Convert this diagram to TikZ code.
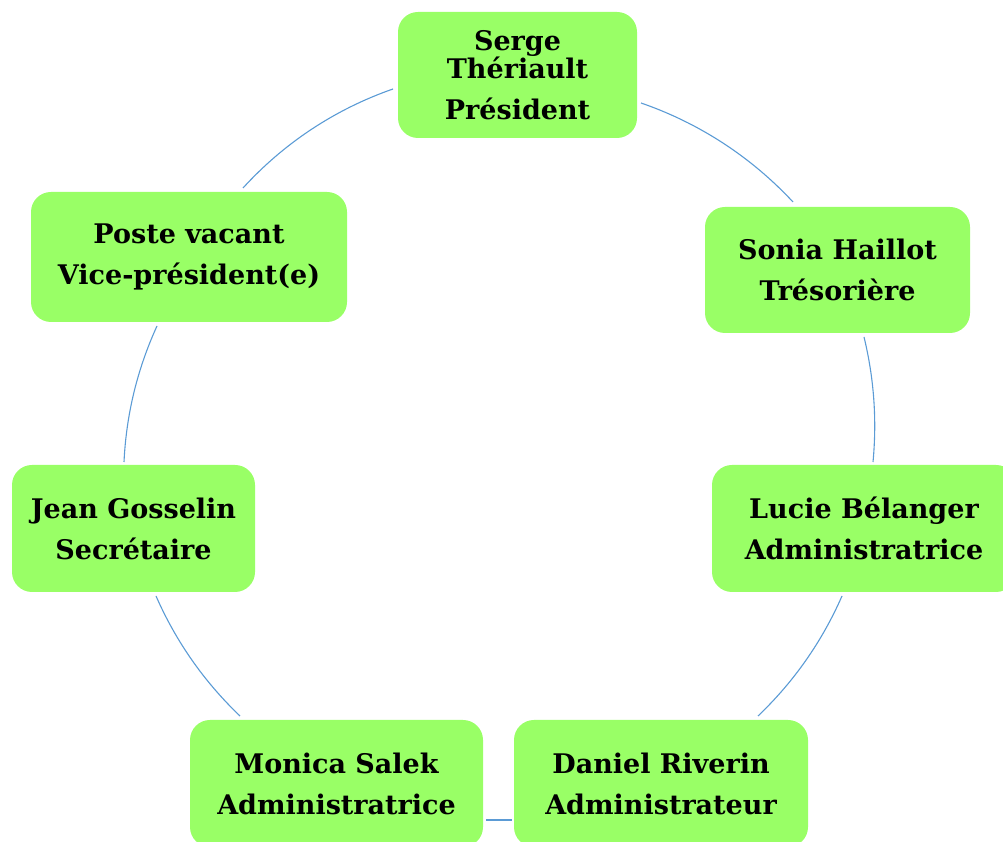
\documentclass[tikz,border=0pt]{standalone}
\usepackage{fontspec}
\setmainfont{DejaVu Serif}

\definecolor{boxgreen}{RGB}{153,255,102}
\definecolor{linkblue}{RGB}{91,155,213}

\begin{document}
\begin{tikzpicture}[x=1pt,y=1pt,
    member/.style={rectangle,rounded corners=20pt,fill=boxgreen,align=center,
      inner sep=0pt,font=\fontsize{27}{41}\selectfont\bfseries},
    link/.style={draw=linkblue,line width=1.1pt,looseness=0.87}]
   \useasboundingbox (0,0) rectangle (1003,842);
   \clip (0,0) rectangle (1003,842);

   \node[member,minimum width=239pt,minimum height=126pt] (serge)  at (517.5,767) {Serge\\[-13pt]Thériault\\Président};
   \node[member,minimum width=265pt,minimum height=126pt] (sonia)  at (837.5,572) {Sonia Haillot\\Trésorière};
   \node[member,minimum width=304pt,minimum height=127pt] (lucie)  at (864,313.5) {Lucie Bélanger\\Administratrice};
   \node[member,minimum width=294pt,minimum height=127pt] (daniel) at (661,58.5)  {Daniel Riverin\\Administrateur};
   \node[member,minimum width=293pt,minimum height=127pt] (monica) at (336.5,58.5) {Monica Salek\\Administratrice};
   \node[member,minimum width=243pt,minimum height=127pt] (jean)   at (133.5,313.5) {Jean Gosselin\\Secrétaire};
   \node[member,minimum width=316pt,minimum height=130pt] (poste)  at (189,585)   {Poste vacant\\Vice-président(e)};

   % ends of the ring pieces
   \coordinate (a1)  at (393,753);  \coordinate (a2)  at (243,654);
   \coordinate (a3)  at (157,516);  \coordinate (a4)  at (124,380);
   \coordinate (a5)  at (156,246);  \coordinate (a6)  at (240,126);
   \coordinate (a7)  at (486,22);   \coordinate (a8)  at (512,22);
   \coordinate (a9)  at (758,126);  \coordinate (a10) at (842,246);
   \coordinate (a11) at (873,380);  \coordinate (a12) at (864,505);
   \coordinate (a13) at (793,640);  \coordinate (a14) at (641,739);

    \path[link]
    (a1)  edge [bend right=14.2] (a2)
    (a3)  edge [bend right=10.9] (a4)
    (a5)  edge [bend right=11.3] (a6)
    (a9)  edge [bend right=11.3] (a10)
    (a11) edge [bend right=9.5]  (a12)
    (a13) edge [bend right=14]   (a14);
    \draw[link] (a7) -- (a8);
\end{tikzpicture}
\end{document}
